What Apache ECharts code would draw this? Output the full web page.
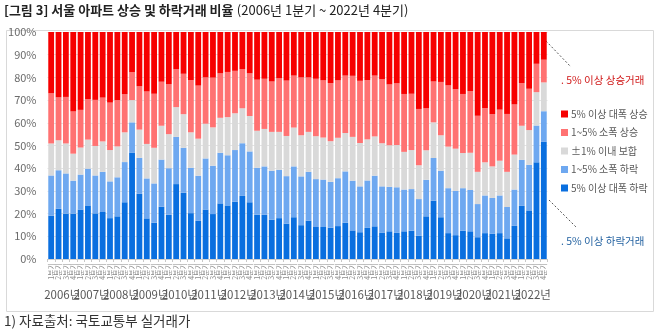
<!DOCTYPE html>
<html><head><meta charset="utf-8">
<script src="https://cdn.jsdelivr.net/npm/echarts@6/dist/echarts.min.js"></script>
<style>html,body{margin:0;padding:0;background:#fff}#c{width:658px;height:333px}</style>
</head><body><div id="c"></div>
<script>
const years = ['2006년','2007년','2008년','2009년','2010년','2011년','2012년','2013년','2014년','2015년','2016년','2017년','2018년','2019년','2020년','2021년','2022년'];
const quarters = ['1분기','2분기','3분기','4분기'];
const yTicks = [0,10,20,30,40,50,60,70,80,90,100];
const seriesNames = ['5% 이상 대폭 하락','1~5% 소폭 하락','±1% 이내 보합','1~5% 소폭 상승','5% 이상 대폭 상승'];
const bigDown = [19.1,22.1,20.0,20.0,21.8,23.6,20.1,20.7,18.0,18.8,25.0,46.9,28.7,17.9,16.0,23.0,19.5,33.0,29.2,20.2,16.8,21.8,19.8,24.5,23.6,25.2,27.8,25.0,19.5,19.5,17.3,18.0,15.6,18.4,14.9,16.9,14.1,14.1,13.8,14.5,16.0,12.6,11.8,13.7,14.4,11.5,12.2,11.5,12.2,12.5,10.3,18.8,25.7,18.4,11.4,10.5,12.5,12.2,9.6,11.4,11.1,11.4,9.1,14.6,23.4,21.4,42.6,51.6];
const smallDown = [17.7,17.0,17.7,14.5,15.4,16.2,16.7,17.7,16.2,17.2,17.7,13.3,15.9,17.6,17.3,20.8,20.5,20.8,19.8,20.0,19.9,22.5,21.3,22.3,22.1,22.8,23.2,22.4,20.7,21.3,21.6,21.3,20.9,22.4,21.5,21.5,21.1,20.9,20.2,21.1,22.6,21.9,20.2,20.9,22.3,20.5,19.6,20.1,18.4,18.3,16.1,16.1,18.8,20.5,19.8,19.5,18.7,18.2,14.6,16.6,15.8,16.6,13.8,16.0,20.3,20.1,16.2,13.5];
const flat = [14.1,13.2,13.2,11.9,11.9,12.8,13.0,13.4,13.8,13.6,13.1,9.8,12.4,15.2,15.7,14.9,15.0,13.1,14.8,15.6,16.3,15.3,16.9,15.4,16.8,16.2,15.4,15.6,16.3,16.5,17.1,16.7,17.7,17.1,18.1,17.6,18.9,18.5,17.9,17.8,16.9,19.3,19.1,18.1,17.3,19.0,18.3,18.6,16.6,17.2,14.9,13.0,15.7,15.6,18.3,18.6,15.5,16.4,14.2,14.6,13.9,15.3,15.5,15.4,15.0,15.3,14.7,12.7];
const smallUp = [22.1,18.9,20.5,18.6,16.6,17.8,20.3,19.3,20.9,20.4,16.8,12.3,19.1,23.1,23.8,19.4,22.0,16.7,17.8,23.0,23.4,20.4,21.9,19.6,19.9,18.7,17.3,18.8,22.5,22.1,22.2,23.6,24.4,22.9,25.5,24.0,25.3,25.2,25.6,25.3,25.3,26.9,27.4,26.1,26.8,28.2,26.8,27.2,25.5,24.8,24.8,18.5,18.0,23.5,27.0,26.2,26.0,27.2,24.7,23.9,23.0,22.5,25.5,22.1,18.8,18.2,12.5,10.0];
const bigUp = [27.0,28.8,28.6,35.0,34.3,29.6,29.9,28.9,31.1,30.0,27.4,17.7,23.9,26.2,27.2,21.9,23.0,16.4,18.4,21.2,23.6,20.0,20.1,18.2,17.6,17.1,16.3,18.2,21.0,20.6,21.8,20.4,21.4,19.2,20.0,20.0,20.6,21.3,22.5,21.3,19.2,19.3,21.5,21.2,19.2,20.8,23.1,22.6,27.3,27.2,33.9,33.6,21.8,22.0,23.5,25.2,27.3,26.0,36.9,33.5,36.2,34.2,36.1,31.9,22.5,25.0,14.0,12.2];

const colors = ['#0a6fdf','#6ea8f0','#d9d9d9','#ff7272','#f60000'];
const categories = [];
years.forEach(y => quarters.forEach(q => categories.push(q)));
const seriesData = [bigDown, smallDown, flat, smallUp, bigUp];
const FONT = '"Noto Sans CJK KR", "Noto Sans", sans-serif';

const chart = echarts.init(document.getElementById('c'), null, {renderer:'canvas'});
chart.setOption({
  animation:false,
  textStyle:{fontFamily:FONT},
  grid:{left:47.5, right:110.5, top:32, bottom:74, containLabel:false},
  legend:{
    orient:'vertical', left:556, top:104, itemWidth:7, itemHeight:7, itemGap:8.5,
    icon:'rect',
    data:seriesNames.slice().reverse(),
    textStyle:{fontFamily:FONT, fontSize:10, color:'#595959', padding:[0,0,0,-2]}
  },
  xAxis:[{
    type:'category', data:categories, position:'bottom',
    axisLine:{lineStyle:{color:'#d0d0d0'}},
    axisTick:{show:true, interval:0, length:3, lineStyle:{color:'#c8c8c8'}},
    axisLabel:{interval:0, rotate:90, fontSize:7, color:'#8c8c8c', margin:4, fontFamily:FONT}
  },{
    type:'category', data:years, position:'bottom', gridIndex:0,
    axisLine:{show:false}, axisTick:{show:false},
    axisLabel:{interval:0, fontSize:11.5, color:'#595959', margin:30, fontFamily:FONT}
  }],
  yAxis:{
    type:'value', min:yTicks[0], max:yTicks[yTicks.length-1], interval:10,
    axisLine:{show:false}, axisTick:{show:false},
    splitLine:{lineStyle:{color:'#e4e4e4'}},
    axisLabel:{formatter:'{value}%', fontSize:11, color:'#6b6b6b', margin:11, fontFamily:FONT}
  },
  series:seriesNames.map((n,i)=>({
    name:n, type:'bar', stack:'total', xAxisIndex:0,
    barCategoryGap:'21%',
    itemStyle:{color:colors[i]},
    data:seriesData[i]
  })),
  graphic:[
    {type:'rect', left:4, top:28, shape:{width:647, height:281}, style:{fill:'none', stroke:'#d9d9d9', lineWidth:1}, z:-1},
    {type:'text', left:4, top:4, style:{
      text:'{b|[그림 3] 서울 아파트 상승 및 하락거래 비율} {n|(2006년 1분기 ~ 2022년 4분기)}',
      rich:{
        b:{fontFamily:FONT, fontSize:13, fontWeight:'bold', fill:'#222'},
        n:{fontFamily:FONT, fontSize:13, fontWeight:'normal', fill:'#222'}
      }
    }},
    {type:'text', left:4, top:314, style:{text:'1) 자료출처: 국토교통부 실거래가', fontFamily:FONT, fontSize:13.5, fill:'#333'}},
    {type:'text', left:561, top:75, style:{text:'. 5% 이상 상승거래', fontFamily:FONT, fontSize:10.5, fill:'#d01818'}},
    {type:'text', left:561, top:236, style:{text:'. 5% 이상 하락거래', fontFamily:FONT, fontSize:10.5, fill:'#1f5f9f'}},
    {type:'line', shape:{x1:546, y1:41, x2:571, y2:67}, style:{stroke:'#555', lineWidth:1, lineDash:[2,2]}},
    {type:'line', shape:{x1:549, y1:200, x2:577, y2:228}, style:{stroke:'#555', lineWidth:1, lineDash:[2,2]}}
  ]
});
</script></body></html>
